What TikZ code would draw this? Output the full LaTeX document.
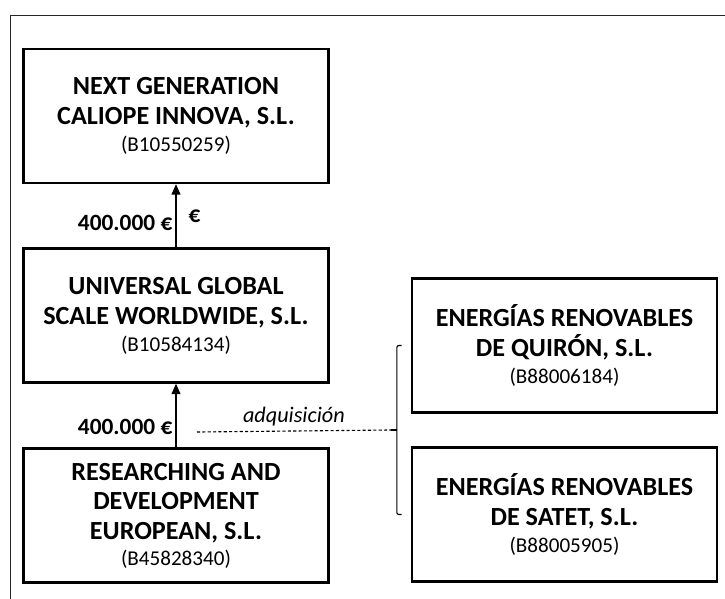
\documentclass[tikz,border=0pt]{standalone}
\usepackage{fontspec}
\setmainfont{Carlito}
\usetikzlibrary{arrows.meta,calc}

\newcommand{\cifnum}[1]{{\fontsize{15}{17}\selectfont\mdseries(#1)}}

\begin{document}
\begin{tikzpicture}[
  x=0.025cm, y=-0.025cm,
  company/.style={
    draw=black,
    line width=1.6pt,
    minimum width=7.625cm,
    minimum height=3.35cm,
    inner sep=0pt,
    align=center,
    font=\fontsize{18.6}{21.2}\selectfont\bfseries,
    text=black
  },
  amount/.style={
    font=\fontsize{16.6}{19}\selectfont\bfseries,
    inner sep=1pt
  },
  flow/.style={
    draw=black,
    line width=1pt,
    -{Triangle[length=2.6mm,width=2.2mm]}
  },
  acquisition/.style={
    draw=black,
    line width=0.8pt,
    dash pattern=on 2.2pt off 1.6pt
  },
  bracket/.style={
    draw=black,
    line width=0.8pt,
    rounded corners=0.5mm
  },
  frame/.style={draw=black!85, line width=0.7pt}
]
\useasboundingbox (0,0) rectangle (725,599);

% Page frame of the scan
\draw[frame] (10,599) -- (10,15) -- (725,15);

% Chain of companies
\node[company] (next) at (176,116)
  {NEXT GENERATION\\CALIOPE INNOVA, S.L.\\[-2pt]\cifnum{B10550259}};
\node[company] (universal) at (176,315.5)
  {UNIVERSAL GLOBAL\\SCALE WORLDWIDE, S.L.\\[-2pt]\cifnum{B10584134}};
\node[company] (researching) at (176,515.5)
  {RESEARCHING AND\\DEVELOPMENT\\EUROPEAN, S.L.\\[-3pt]\cifnum{B45828340}};

% Acquired companies
\node[company] (quiron) at (564.5,345.5)
  {ENERGÍAS RENOVABLES\\DE QUIRÓN, S.L.\\[-2pt]\cifnum{B88006184}};
\node[company] (satet) at (564.5,514.5)
  {ENERGÍAS RENOVABLES\\DE SATET, S.L.\\[-2pt]\cifnum{B88005905}};

% Money flows
\draw[flow] (universal.north) -- (next.south);
\draw[flow] (researching.north) -- (universal.south);

\node[amount,anchor=east] (amount-top) at (174,223) {400.000 €};
\node[amount,anchor=west] (euro) at (187,216) {€};
\node[amount,anchor=east] (amount-bottom) at (174,427) {400.000 €};

% Acquisition bracket
\coordinate (brace-mid) at ($(quiron.west)!0.5!(satet.west)+(-14,0)$);
\coordinate (acq-end) at ($(brace-mid)+(-6,0)$);
\coordinate (acq-start) at (197,432);

\draw[bracket] ([xshift=-2.3mm]quiron.west) -- ([xshift=-3.5mm]quiron.west)
  -- ([xshift=-3.5mm]satet.west) -- ([xshift=-2.3mm]satet.west);
\draw[bracket] (acq-end) -- (brace-mid);
\draw[acquisition] (acq-start) -- node[above=0pt,
  font=\fontsize{15.8}{18}\selectfont\itshape] (acq-label) {adquisición}
  (acq-end);

\end{tikzpicture}
\end{document}
